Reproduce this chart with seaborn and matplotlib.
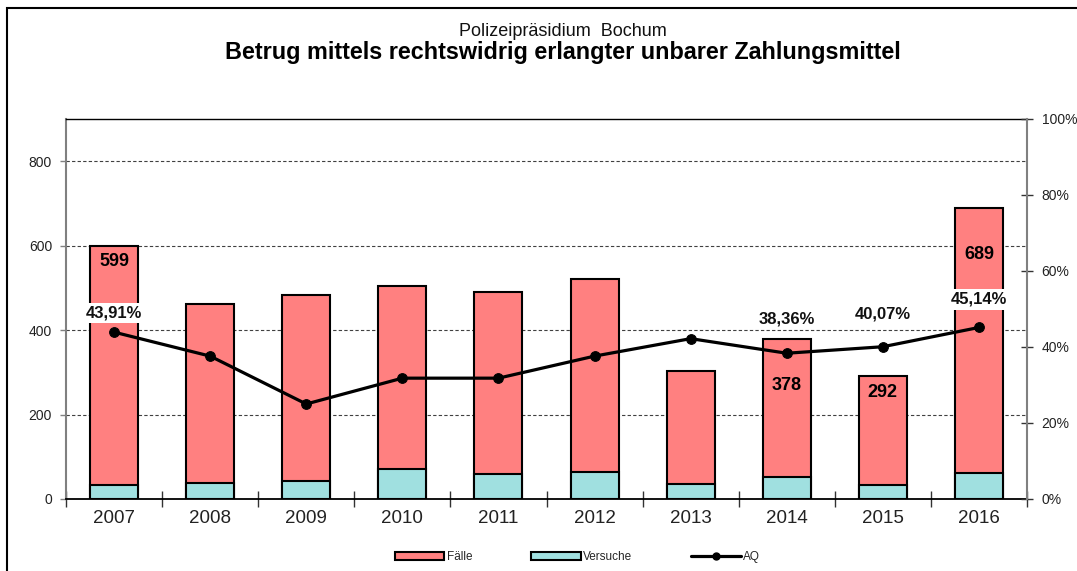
import numpy as np
import pandas as pd
import seaborn as sns
import matplotlib.pyplot as plt
from matplotlib.patches import Rectangle, Patch
from matplotlib.lines import Line2D

# Werte
jahre = ["2007", "2008", "2009", "2010", "2011", "2012", "2013", "2014", "2015", "2016"]
faelle = [599, 463, 482, 504, 490, 520, 302, 378, 292, 689]
versuche = [33, 39, 43, 70, 59, 63, 36, 51, 33, 61]
aq = [43.91, 37.6, 25.0, 31.8, 31.8, 37.6, 42.2, 38.36, 40.07, 45.14]

# welche Werte beschriftet sind (Versatz in Pixel)
faelle_labels = {"2007": -15, "2014": -46, "2015": -17, "2016": -46}
aq_labels = {"2007": (19, True), "2014": (34, False), "2015": (33, False), "2016": (28, True)}

sns.set_style("white")
plt.rcParams["font.family"] = ["Liberation Sans", "DejaVu Sans"]

df = pd.DataFrame({"Jahr": jahre, "Faelle": faelle, "Versuche": versuche, "AQ": aq})

fig = plt.figure(figsize=(10.77, 5.71), dpi=100)
ax = fig.add_axes([66 / 1077, 1 - 499 / 571, (1027 - 66) / 1077, (499 - 119) / 571])

sns.barplot(data=df, x="Jahr", y="Faelle", color="#FF8080", saturation=1,
            edgecolor="black", linewidth=1.5, width=0.5, ax=ax)
sns.barplot(data=df, x="Jahr", y="Versuche", color="#A0E0E0", saturation=1,
            edgecolor="black", linewidth=1.5, width=0.5, ax=ax)

ax.set_xlim(-0.5, len(jahre) - 0.5)
ax.set_ylim(0, 900)
ax.set_yticks([0, 200, 400, 600, 800])
ax.set_xlabel("")
ax.set_ylabel("")
ax.set_axisbelow(True)
ax.yaxis.grid(True, linestyle=(0, (3, 2)), color="#404040", linewidth=0.8)
ax.tick_params(axis="y", which="major", direction="out", length=4, width=1,
               color="#808080", labelsize=10, pad=6, labelcolor="#222222", left=True)
ax.tick_params(axis="x", which="major", length=0, labelsize=13.5, pad=8, labelcolor="#222222")
ax.set_xticks(np.arange(-0.5, len(jahre), 1), minor=True)
ax.tick_params(axis="x", which="minor", direction="inout", length=11, width=1,
               color="#333333", bottom=True)
ax.spines["left"].set_color("#808080")
ax.spines["left"].set_linewidth(1.5)
ax.spines["bottom"].set_color("black")
ax.spines["bottom"].set_linewidth(1.3)
ax.spines["top"].set_color("black")
ax.spines["top"].set_linewidth(1)
ax.spines["right"].set_visible(False)

for i, j in enumerate(jahre):
    if j in faelle_labels:
        ax.annotate(str(faelle[i]), (i, faelle[i]), xytext=(0, faelle_labels[j] * 0.72),
                    textcoords="offset points", ha="center", va="center",
                    fontsize=13, fontweight="bold", color="black")

ax2 = ax.twinx()
sns.lineplot(x=np.arange(len(jahre)), y=aq, ax=ax2, color="black", linewidth=2.3,
             marker="o", markersize=7, markeredgecolor="black")
ax2.set_ylim(0, 100)
ax2.set_yticks([0, 20, 40, 60, 80, 100])
ax2.set_yticklabels([f"{v}%" for v in [0, 20, 40, 60, 80, 100]])
ax2.tick_params(axis="y", direction="inout", length=9, width=1, color="#333333",
                labelsize=10, pad=6, labelcolor="#222222", right=True)
for s in ["left", "top", "bottom"]:
    ax2.spines[s].set_visible(False)
ax2.spines["right"].set_color("#808080")
ax2.spines["right"].set_linewidth(1.5)

for i, j in enumerate(jahre):
    if j in aq_labels:
        off, box = aq_labels[j]
        txt = f"{aq[i]:.2f}%".replace(".", ",")
        bbox = dict(facecolor="white", edgecolor="none", pad=2) if box else None
        ax2.annotate(txt, (i, aq[i]), xytext=(0, off * 0.72), textcoords="offset points",
                     ha="center", va="center", fontsize=12, fontweight="bold",
                     color="#111111", bbox=bbox)

fig.text(0.523, 1 - 31 / 571, "Polizeipräsidium  Bochum", ha="center", va="center",
         fontsize=13, color="#111111")
fig.text(0.523, 1 - 53 / 571, "Betrug mittels rechtswidrig erlangter unbarer Zahlungsmittel",
         ha="center", va="center", fontsize=16.8, fontweight="bold", color="black")

handles = [
    Patch(facecolor="#FF8080", edgecolor="black", linewidth=1.5, label="Fälle"),
    Patch(facecolor="#A0E0E0", edgecolor="black", linewidth=1.5, label="Versuche"),
    Line2D([0], [0], color="black", linewidth=2.3, marker="o", markersize=5, label="AQ"),
]
fig.legend(handles=handles, loc="center", bbox_to_anchor=(0.536, 1 - 557 / 571), ncol=3,
           frameon=False, fontsize=8.5, handlelength=4.2, handleheight=0.6,
           columnspacing=5, handletextpad=0.2)

fig.add_artist(Rectangle((7 / 1077, -0.1), 1.2, 1.1 - 8 / 571, transform=fig.transFigure,
                         fill=False, edgecolor="black", linewidth=1.5))

fig.savefig("out.png", dpi=100)
